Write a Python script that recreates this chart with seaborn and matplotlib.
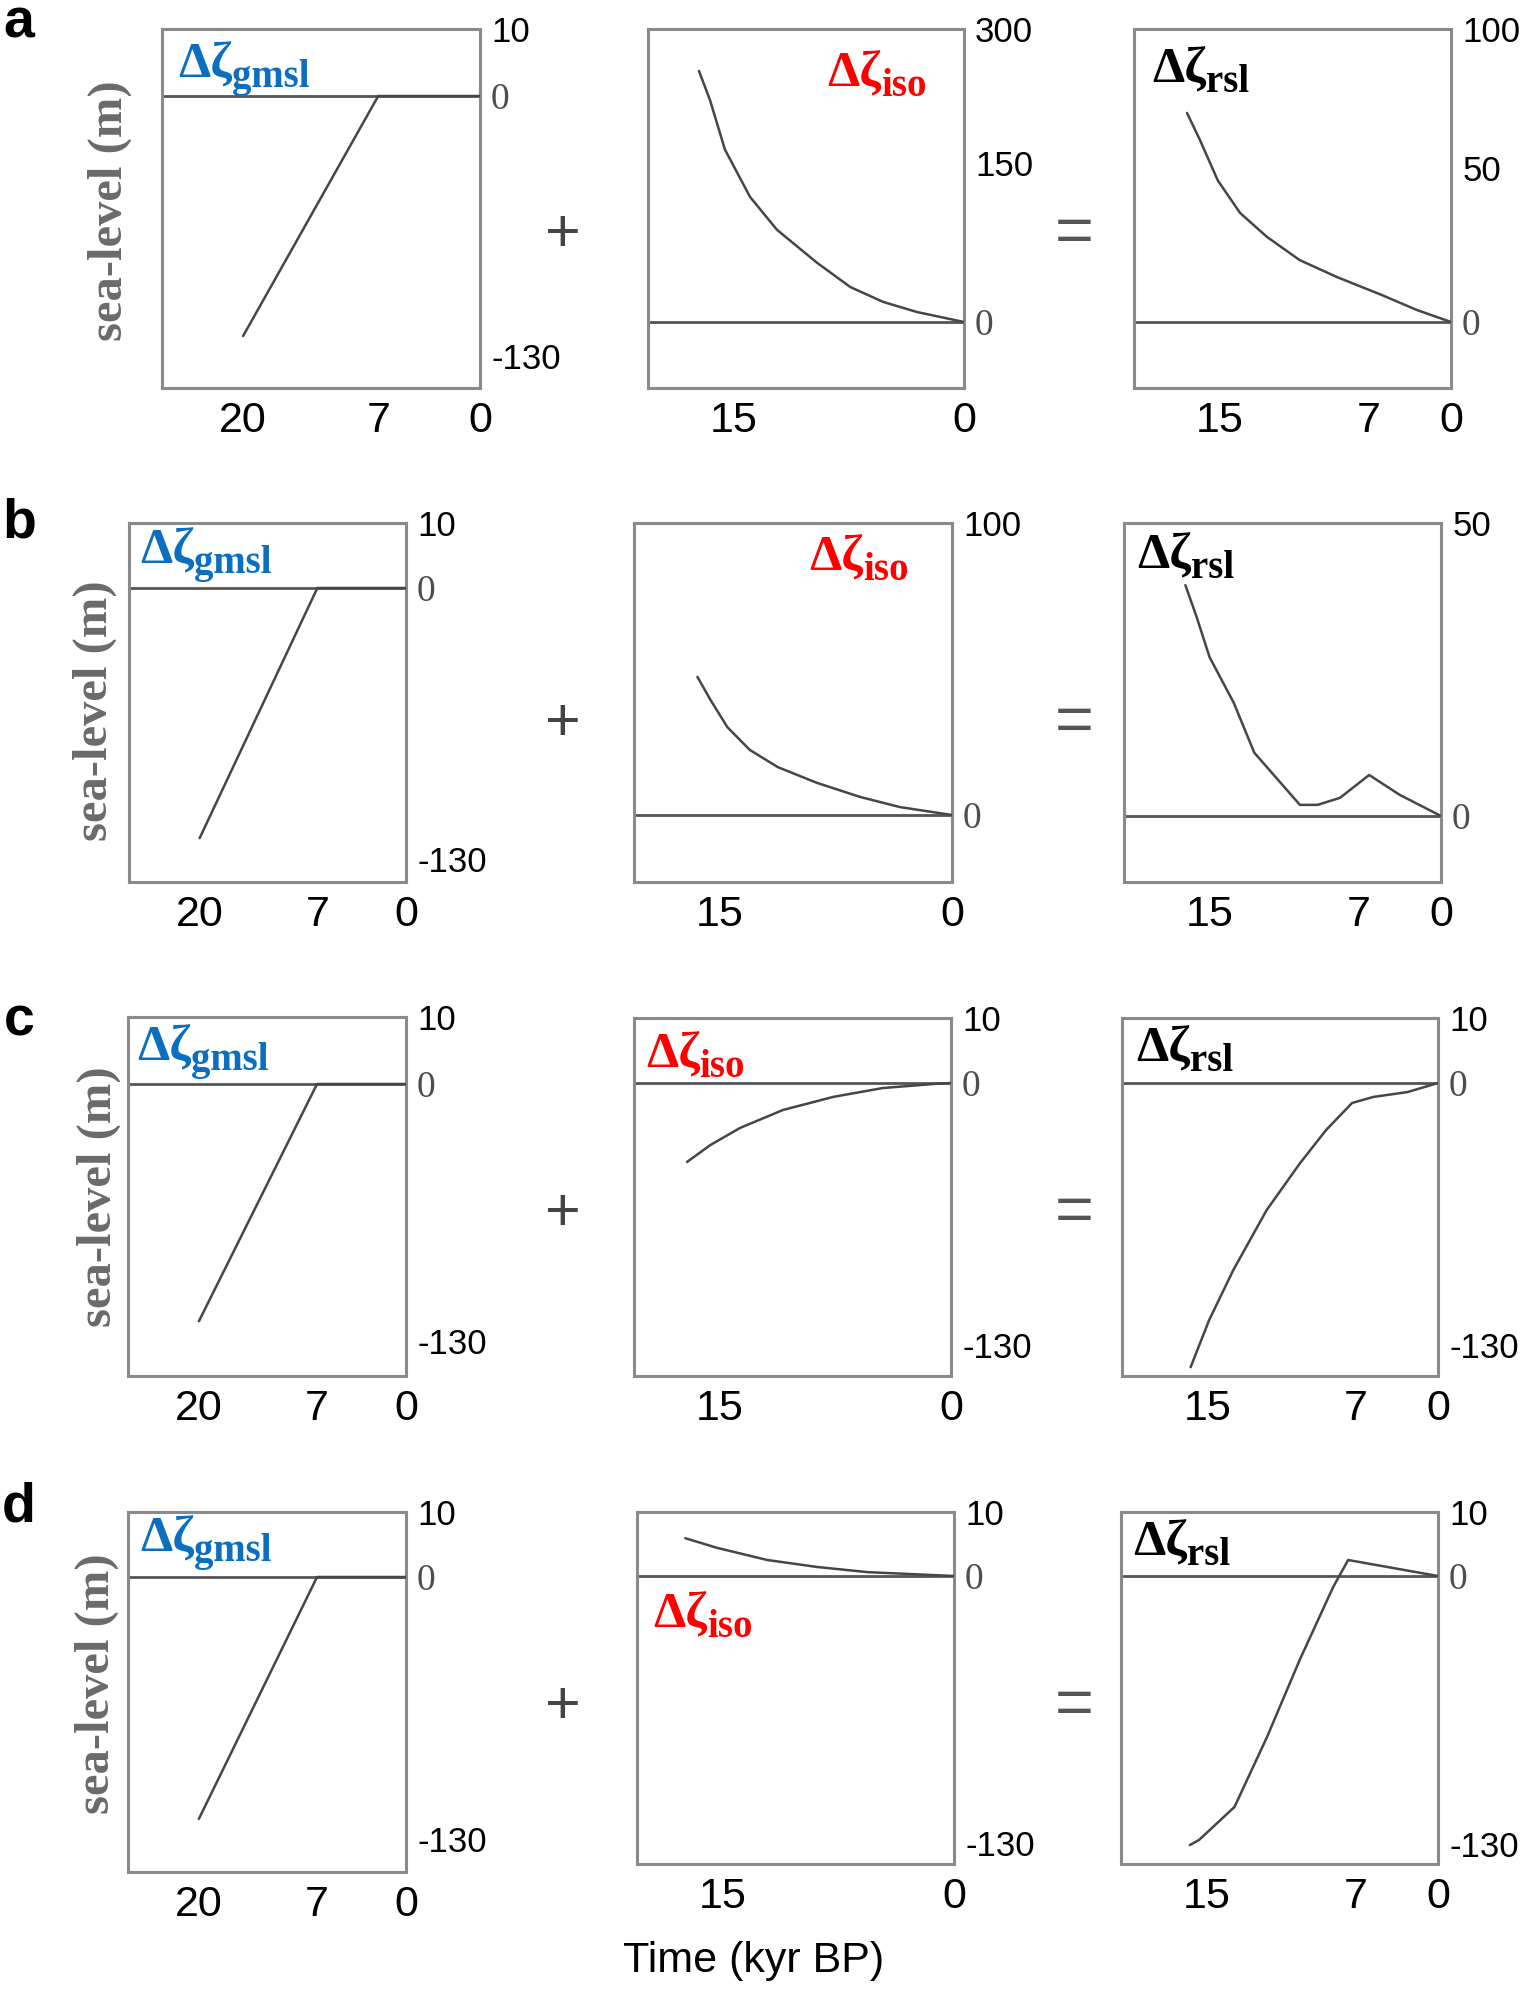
import matplotlib
matplotlib.use('Agg')
import matplotlib.pyplot as plt
import seaborn as sns
import numpy as np
import pandas as pd

sns.set_style('white')
plt.rcParams['font.family'] = ['Liberation Sans', 'DejaVu Sans']
plt.rcParams['text.color'] = 'black'
plt.rcParams['xtick.color'] = 'black'
plt.rcParams['ytick.color'] = 'black'

W, H = 1534, 1992

# ---- data: time (kyr BP) and sea level (m) ----
gmsl_t = [20, 7, 0]
gmsl_sl = [-120, 0, 0]

iso_a_t = [16.85, 16.25, 15.45, 14.1, 12.65, 10.5, 8.7, 6.9, 4.0, 0]
iso_a_sl = [253, 220, 165, 118, 87, 56, 33, 19, 9.4, 0]
rsl_a_t = [16.75, 16.05, 15.1, 13.9, 12.45, 10.7, 8.7, 5.9, 2.9, 0]
rsl_a_sl = [69.8, 60, 46, 35.4, 27.6, 20.1, 14.6, 8.8, 3.9, 0]

iso_b_t = [16.2, 15.5, 14.6, 13.4, 11.9, 9.8, 7.5, 4.4, 0]
iso_b_sl = [47.3, 39.4, 30.1, 22.3, 16.4, 11.0, 6.2, 2.7, 0]
rsl_b_t = [16.3, 15.7, 15.0, 13.7, 12.6, 10.15, 9.2, 8.0, 6.1, 3.5, 0]
rsl_b_sl = [39.4, 34.0, 27.1, 19.3, 10.8, 1.9, 1.9, 3.1, 7.0, 3.6, 0]

iso_c_t = [16.75, 15.5, 13.9, 11.6, 8.9, 5.8, 1.5, 0]
iso_c_sl = [-39.2, -30.8, -22.3, -13.4, -6.9, -2.5, -0.5, 0]
rsl_c_t = [15.9, 14.9, 13.6, 11.8, 10.0, 8.6, 7.2, 5.5, 2.6, 0]
rsl_c_sl = [-141, -117.6, -92.8, -63, -39.7, -23.3, -9.9, -6.9, -4.5, 0]

iso_d_t = [17.0, 15.3, 12.6, 9.9, 7.2, 0]
iso_d_sl = [5.9, 4.4, 2.5, 1.4, 0.6, 0]
rsl_d_t = [15.9, 15.4, 13.5, 11.75, 10.0, 8.2, 7.4, 0]
rsl_d_sl = [-130.5, -128, -112, -78, -40.7, -5.3, 2.5, 0]

xticks = {'gmsl': [20, 7, 0], 'iso': [15, 0], 'rsl': [15, 7, 0]}

# ---- layout: schematic (piecewise) axes ----
# time axis anchors: value -> fraction of width from the right edge
x_anchors = {'gmsl': ([0, 7, 20], [0.0, 0.32, 0.745]),
             'iso': ([0, 7, 15], [0.0, 0.26, 0.73]),
             'rsl': ([0, 7, 15], [0.0, 0.26, 0.73])}

# panel boxes in pixels (left, top, right, bottom)
boxes = {
    'a1': (162, 29, 480, 388), 'a2': (648, 29, 964, 388), 'a3': (1134, 29, 1451, 388),
    'b1': (129, 523, 406, 882), 'b2': (634, 523, 952, 882), 'b3': (1124, 523, 1441, 882),
    'c1': (128, 1017, 406, 1376), 'c2': (634, 1018, 951, 1376), 'c3': (1122, 1018, 1438, 1376),
    'd1': (128, 1512, 406, 1872), 'd2': (637, 1512, 954, 1864), 'd3': (1121, 1512, 1438, 1864),
}
# y anchors: (value, pixel row)
y_anchors = {
    'a1': [(10, 29), (0, 96), (-130, 356)],
    'a2': [(300, 29), (150, 163), (0, 322)],
    'a3': [(100, 29), (50, 168), (0, 322)],
    'b1': [(10, 523), (0, 588), (-130, 859)],
    'b2': [(100, 523), (0, 815)],
    'b3': [(50, 523), (0, 816)],
    'c1': [(10, 1017), (0, 1084), (-130, 1341)],
    'c2': [(10, 1018), (0, 1083), (-130, 1345)],
    'c3': [(10, 1018), (0, 1083), (-130, 1345)],
    'd1': [(10, 1512), (0, 1577), (-130, 1839)],
    'd2': [(10, 1512), (0, 1576), (-130, 1843)],
    'd3': [(10, 1512), (0, 1576), (-130, 1844)],
}
# where the Δζ tag sits (left of Δ, baseline), pixels
tag_pos = {
    'a1': (178, 77), 'a2': (827, 86), 'a3': (1152, 82),
    'b1': (140, 563), 'b2': (809, 570), 'b3': (1137, 568),
    'c1': (137, 1060), 'c2': (646, 1067), 'c3': (1136, 1061),
    'd1': (140, 1551), 'd2': (653, 1627), 'd3': (1133, 1555),
}
tag_style = {'gmsl': ('gmsl', '#0b6fc1'), 'iso': ('iso', '#ff0000'), 'rsl': ('rsl', '#000000')}

panels = [
    ('a1', gmsl_t, gmsl_sl, 'gmsl'), ('a2', iso_a_t, iso_a_sl, 'iso'), ('a3', rsl_a_t, rsl_a_sl, 'rsl'),
    ('b1', gmsl_t, gmsl_sl, 'gmsl'), ('b2', iso_b_t, iso_b_sl, 'iso'), ('b3', rsl_b_t, rsl_b_sl, 'rsl'),
    ('c1', gmsl_t, gmsl_sl, 'gmsl'), ('c2', iso_c_t, iso_c_sl, 'iso'), ('c3', rsl_c_t, rsl_c_sl, 'rsl'),
    ('d1', gmsl_t, gmsl_sl, 'gmsl'), ('d2', iso_d_t, iso_d_sl, 'iso'), ('d3', rsl_d_t, rsl_d_sl, 'rsl'),
]


def make_scale(vals, fracs):
    # piecewise-linear mapping value -> axis fraction, stretched to cover 0..1
    order = np.argsort(fracs)
    v = list(np.asarray(vals, float)[order])
    f = list(np.asarray(fracs, float)[order])
    if f[0] > 0:
        s = (v[1] - v[0]) / (f[1] - f[0])
        v.insert(0, v[0] - s * f[0]); f.insert(0, 0.0)
    if f[-1] < 1:
        s = (v[-1] - v[-2]) / (f[-1] - f[-2])
        v.append(v[-1] + s * (1 - f[-1])); f.append(1.0)
    v = np.array(v); f = np.array(f)

    def fwd(x):
        return np.interp(x, v, f)

    def inv(y):
        return np.interp(y, f, v)
    return fwd, inv, v[0], v[-1]


fig = plt.figure(figsize=(W / 100, H / 100), dpi=100)
serif = ['Liberation Serif', 'DejaVu Serif']

for key, t, sl, kind in panels:
    l, tp, r, b = boxes[key]
    ax = fig.add_axes([l / W, 1 - b / H, (r - l) / W, (b - tp) / H])
    df = pd.DataFrame({'time': t, 'sea_level': sl})
    sns.lineplot(data=df, x='time', y='sea_level', ax=ax, color='#464646',
                 linewidth=1.8, estimator=None, sort=False, zorder=3)
    ax.axhline(0, color='#555555', linewidth=2.0, zorder=2)

    tv, tf = x_anchors[kind]
    fwd, inv, lo, hi = make_scale(tv, tf)
    ax.set_xscale('function', functions=(fwd, inv))
    ax.set_xlim(hi, lo)

    yv = [v for v, p in y_anchors[key]]
    yf = [(b - p) / (b - tp) for v, p in y_anchors[key]]
    fwd, inv, lo, hi = make_scale(yv, yf)
    ax.set_yscale('function', functions=(fwd, inv))
    ax.set_ylim(lo, hi)

    ax.set_xticks(xticks[kind], [str(v) for v in xticks[kind]])
    ax.set_yticks(yv, [str(v) for v in yv])
    ax.yaxis.tick_right()
    ax.tick_params(axis='x', length=0, pad=9, labelsize=31, labelcolor='black')
    ax.tick_params(axis='y', length=0, pad=8, labelsize=25, labelcolor='black')
    for lab in ax.get_yticklabels():
        if lab.get_text() == '0':
            lab.set_family(serif)
            lab.set_color('#4d4d4d')
            lab.set_fontsize(27)
    ax.set_xlabel('')
    ax.set_ylabel('')
    for s in ax.spines.values():
        s.set_color('#8a8a8a')
        s.set_linewidth(2.2)

    sub, c = tag_style[kind]
    tx, ty = tag_pos[key]
    main = ax.text((tx - l) / (r - l), (b - ty) / (b - tp), 'Δζ', transform=ax.transAxes,
                   family=serif, fontweight='bold', fontsize=37, color=c,
                   ha='left', va='baseline', zorder=5)
    ax.annotate(sub, xy=(1, 0), xycoords=main, xytext=(0, 1), textcoords='offset points',
                family=serif, fontweight='bold', fontsize=28, color=c,
                ha='left', va='baseline', zorder=5)

# row letters, y labels, operators
for letter, (x, y) in zip('abcd', [(19, 23), (19, 524), (19, 1021), (19, 1507)]):
    fig.text(x / W, 1 - y / H, letter, fontsize=40, fontweight='bold', ha='center', va='center')
for x, y in [(110, 211), (95, 711), (99, 1197), (97, 1684)]:
    fig.text(x / W, 1 - y / H, 'sea-level (m)', rotation=90, family=serif, fontweight='bold',
             fontsize=35, color='#6a6a6a', ha='center', va='center')
for y in [235, 724, 1214, 1707]:
    fig.text(563 / W, 1 - y / H, '+', fontsize=44, color='#444444', ha='center', va='center')
    fig.text(1074 / W, 1 - y / H, '=', fontsize=48, color='#555555', ha='center', va='center')

fig.text(754 / W, 1 - 1961 / H, 'Time (kyr BP)', fontsize=31, ha='center', va='center')

fig.savefig('out.png', dpi=100)
